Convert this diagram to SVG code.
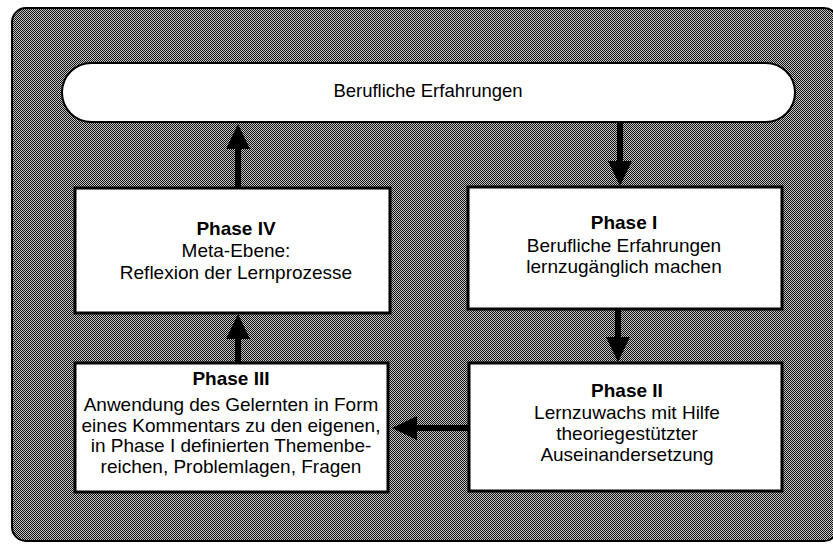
<svg xmlns="http://www.w3.org/2000/svg" width="833" height="544" viewBox="0 0 833 544">
  <defs>
    <pattern id="dither" width="2" height="2" patternUnits="userSpaceOnUse">
      <rect width="2" height="2" fill="#c4c4c4"/>
      <rect x="0" y="0" width="1" height="1" fill="#111"/>
      <rect x="1" y="1" width="1" height="1" fill="#111"/>
    </pattern>
    <marker id="head" markerUnits="userSpaceOnUse" markerWidth="26" markerHeight="26" refX="0" refY="12" orient="auto" viewBox="0 0 26 24">
      <path d="M0,0 L25,12 L0,24 Z" fill="#000"/>
    </marker>
    <style>
      .box { fill: #fff; stroke: #000; stroke-width: 3; }
      .t { font-family: "Liberation Sans", Arial, sans-serif; font-size: 19px; fill: #000; text-anchor: middle; }
      .p { font-size: 18.5px; }
      .b { font-weight: bold; }
      .arrow { stroke: #000; stroke-width: 6; fill: none; marker-end: url(#head); }
    </style>
  </defs>

  <rect id="background" x="12" y="8" width="826" height="533" rx="14" fill="url(#dither)" stroke="#000" stroke-width="2"/>

  <g id="berufliche-erfahrungen">
    <rect x="62" y="63" width="733" height="59" rx="29.5" fill="#fff" stroke="#000" stroke-width="2"/>
    <text class="t p" x="428" y="97">Berufliche Erfahrungen</text>
  </g>

  <g id="phase-iv">
    <rect class="box" x="75" y="188" width="315" height="125"/>
    <text class="t b" x="236" y="235">Phase  IV</text>
    <text class="t" x="236" y="257">Meta-Ebene:</text>
    <text class="t" x="236" y="279">Reflexion der Lernprozesse</text>
  </g>

  <g id="phase-i">
    <rect class="box" x="468" y="187" width="314" height="122"/>
    <text class="t b" x="624" y="229">Phase I</text>
    <text class="t" x="624" y="252">Berufliche Erfahrungen</text>
    <text class="t" x="624" y="273">lernzugänglich machen</text>
  </g>

  <g id="phase-ii">
    <rect class="box" x="469" y="363" width="313" height="128"/>
    <text class="t b" x="627" y="397">Phase II</text>
    <text class="t" x="627" y="419">Lernzuwachs mit Hilfe</text>
    <text class="t" x="627" y="440">theoriegestützter</text>
    <text class="t" x="627" y="461">Auseinandersetzung</text>
  </g>

  <g id="phase-iii">
    <rect class="box" x="75" y="363" width="313" height="129"/>
    <text class="t b" x="231" y="385">Phase III</text>
    <text class="t" x="231" y="411">Anwendung des Gelernten in Form</text>
    <text class="t" x="231" y="432">eines Kommentars zu den eigenen,</text>
    <text class="t" x="231" y="452">in Phase I definierten Themenbe-</text>
    <text class="t" x="231" y="473">reichen, Problemlagen, Fragen</text>
  </g>

  <g id="connectors">
    <line class="arrow" x1="238" y1="187" x2="238" y2="149"/>
    <line class="arrow" x1="620" y1="123" x2="620" y2="161"/>
    <line class="arrow" x1="618" y1="310" x2="618" y2="337"/>
    <line class="arrow" x1="468" y1="428" x2="417" y2="428"/>
    <line class="arrow" x1="238" y1="362" x2="238" y2="339"/>
  </g>
</svg>
